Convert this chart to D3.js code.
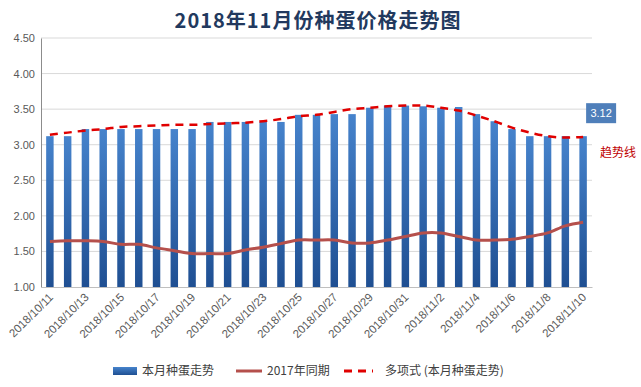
<!DOCTYPE html>
<html>
<head>
<meta charset="utf-8">
<script src="https://cdn.jsdelivr.net/npm/d3@7"></script>
<style>
  body { margin: 0; background: #fff; }
  svg { display: block; font-family: "Noto Sans CJK SC", "Liberation Sans", sans-serif; }
</style>
</head>
<body>
<div id="chart"></div>
<script>
// dates of the month (x categories)
const dates = [
  "2018/10/11", "2018/10/12", "2018/10/13", "2018/10/14", "2018/10/15", "2018/10/16",
  "2018/10/17", "2018/10/18", "2018/10/19", "2018/10/20", "2018/10/21", "2018/10/22",
  "2018/10/23", "2018/10/24", "2018/10/25", "2018/10/26", "2018/10/27", "2018/10/28",
  "2018/10/29", "2018/10/30", "2018/10/31", "2018/11/1", "2018/11/2", "2018/11/3",
  "2018/11/4", "2018/11/5", "2018/11/6", "2018/11/7", "2018/11/8", "2018/11/9",
  "2018/11/10"
];

// 本月种蛋走势 (bars)
const priceThisMonth = [
  3.12, 3.12, 3.22, 3.22, 3.22, 3.22, 3.22, 3.22, 3.22, 3.32, 3.32, 3.32,
  3.32, 3.32, 3.42, 3.42, 3.43, 3.43, 3.52, 3.55, 3.55, 3.54, 3.52, 3.53,
  3.43, 3.33, 3.22, 3.12, 3.12, 3.12, 3.12
];

// 2017年同期 (solid line)
const priceLastYear = [
  1.64, 1.65, 1.65, 1.64, 1.60, 1.60, 1.55, 1.51, 1.47, 1.47, 1.47, 1.52,
  1.56, 1.61, 1.66, 1.66, 1.66, 1.62, 1.62, 1.66, 1.71, 1.76, 1.76, 1.71,
  1.66, 1.66, 1.67, 1.71, 1.76, 1.86, 1.91
];

// 多项式 (本月种蛋走势) trendline
const trendValues = [
  3.14, 3.17, 3.20, 3.22, 3.25, 3.26, 3.27, 3.28, 3.28, 3.29, 3.30, 3.31,
  3.33, 3.36, 3.40, 3.42, 3.46, 3.50, 3.52, 3.54, 3.55, 3.55, 3.52, 3.48,
  3.41, 3.33, 3.24, 3.17, 3.12, 3.10, 3.11
];

// y axis ticks
const yTicks = [1.0, 1.5, 2.0, 2.5, 3.0, 3.5, 4.0, 4.5];

const legendLabels = ["本月种蛋走势", "2017年同期", "多项式 (本月种蛋走势)"];

const width = 641;
const height = 387;
const margin = { top: 38, right: 49, bottom: 100, left: 41 };

const barColorTop = "#4683cc";
const barColorBottom = "#1f4f92";
const lastYearColor = "#b5504c";
const trendColor = "#e00000";

const svg = d3.select("#chart")
  .append("svg")
  .attr("width", width)
  .attr("height", height);

// bar gradient
const defs = svg.append("defs");
const grad = defs.append("linearGradient")
  .attr("id", "barGrad")
  .attr("x1", 0).attr("y1", 0).attr("x2", 0).attr("y2", 1);
grad.append("stop").attr("offset", "0%").attr("stop-color", barColorTop);
grad.append("stop").attr("offset", "100%").attr("stop-color", barColorBottom);

// title
svg.append("text")
  .attr("x", 318)
  .attr("y", 28)
  .attr("text-anchor", "middle")
  .attr("font-size", 20)
  .attr("font-weight", "bold")
  .attr("letter-spacing", 1)
  .attr("fill", "#22395e")
  .text("2018年11月份种蛋价格走势图");

// scales
const x = d3.scaleBand()
  .domain(dates)
  .range([margin.left, width - margin.right])
  .paddingInner(0.58)
  .paddingOuter(0.29);

const y = d3.scaleLinear()
  .domain([1, 4.5])
  .range([height - margin.bottom, margin.top]);

const cx = d => x(d) + x.bandwidth() / 2;

// gridlines
svg.append("g")
  .selectAll("line")
  .data(yTicks.slice(1))
  .enter()
  .append("line")
  .attr("x1", margin.left)
  .attr("x2", width - margin.right)
  .attr("y1", d => y(d))
  .attr("y2", d => y(d))
  .attr("stroke", "#d9d9d9")
  .attr("stroke-width", 1);

// y axis
const yAxisGroup = svg.append("g")
  .attr("transform", `translate(${margin.left}, 0)`)
  .call(d3.axisLeft(y).tickValues(yTicks).tickSize(0).tickPadding(6).tickFormat(d3.format(".2f")));
yAxisGroup.select(".domain").attr("stroke", "#8c8c8c");
yAxisGroup.selectAll("text")
  .attr("font-size", 11)
  .attr("fill", "#595959")
  .attr("font-family", "Liberation Sans, sans-serif");

// bars
svg.append("g")
  .selectAll("rect")
  .data(priceThisMonth)
  .enter()
  .append("rect")
  .attr("x", (d, i) => x(dates[i]))
  .attr("y", d => y(d))
  .attr("width", x.bandwidth())
  .attr("height", d => y(1) - y(d))
  .attr("fill", "url(#barGrad)");

// x axis
const xAxisGroup = svg.append("g")
  .attr("transform", `translate(0, ${y(1)})`)
  .call(d3.axisBottom(x).tickValues(dates.filter((d, i) => i % 2 === 0)).tickSize(0));
xAxisGroup.select(".domain").attr("stroke", "#bfbfbf");
xAxisGroup.selectAll("text")
  .attr("x", 0)
  .attr("y", 0)
  .attr("dy", 0)
  .attr("font-size", 11.5)
  .attr("fill", "#595959")
  .attr("font-family", "Liberation Sans, sans-serif")
  .attr("text-anchor", "end")
  .attr("transform", "translate(4, 11) rotate(-45)");

// 2017 line (smoothed)
const lastYearLine = d3.line()
  .x((d, i) => cx(dates[i]))
  .y(d => y(d))
  .curve(d3.curveCatmullRom.alpha(0.5));

svg.append("path")
  .datum(priceLastYear)
  .attr("d", lastYearLine)
  .attr("fill", "none")
  .attr("stroke", lastYearColor)
  .attr("stroke-width", 3)
  .attr("stroke-linejoin", "round");

// trendline
svg.append("path")
  .datum(trendValues)
  .attr("d", lastYearLine)
  .attr("fill", "none")
  .attr("stroke", trendColor)
  .attr("stroke-width", 2.5)
  .attr("stroke-dasharray", "8,6");

// last value label
const lastIdx = priceThisMonth.length - 1;
const labelX = cx(dates[lastIdx]) + 3;
const labelY = y(priceThisMonth[lastIdx]) - 33;
svg.append("rect")
  .attr("x", labelX)
  .attr("y", labelY)
  .attr("width", 30)
  .attr("height", 20)
  .attr("fill", "#4f7fba");
svg.append("text")
  .attr("x", labelX + 15)
  .attr("y", labelY + 14)
  .attr("text-anchor", "middle")
  .attr("font-size", 11)
  .attr("fill", "#fff")
  .attr("font-family", "Liberation Sans, sans-serif")
  .text(priceThisMonth[lastIdx].toFixed(2));

// 趋势线 note
svg.append("text")
  .attr("x", 600)
  .attr("y", 157)
  .attr("font-size", 12)
  .attr("fill", "#c00000")
  .text("趋势线");

// legend
const legend = svg.append("g").attr("transform", "translate(0, 371)");
legend.append("rect")
  .attr("x", 113).attr("y", -4).attr("width", 24).attr("height", 8)
  .attr("fill", "url(#barGrad)");
legend.append("line")
  .attr("x1", 236).attr("x2", 262).attr("y1", 0).attr("y2", 0)
  .attr("stroke", lastYearColor).attr("stroke-width", 3);
legend.append("line")
  .attr("x1", 344).attr("x2", 373).attr("y1", 0).attr("y2", 0)
  .attr("stroke", trendColor).attr("stroke-width", 3)
  .attr("stroke-dasharray", "8,6");
legend.selectAll("text.lg")
  .data(legendLabels)
  .enter()
  .append("text")
  .attr("class", "lg")
  .attr("x", (d, i) => [142, 267, 385][i])
  .attr("y", 4)
  .attr("font-size", 12)
  .attr("fill", "#404040")
  .text(d => d);
</script>
</body>
</html>
